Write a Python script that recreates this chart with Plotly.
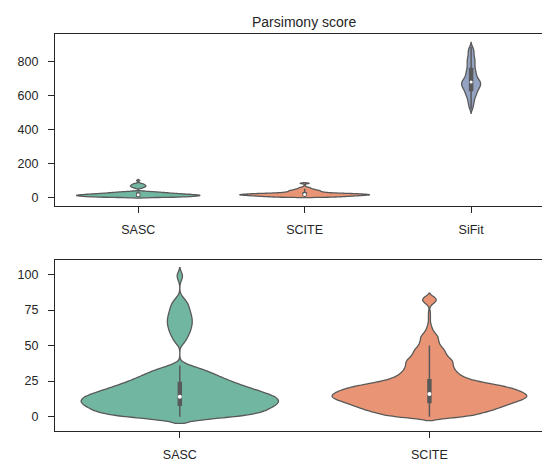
import numpy as np
import plotly.graph_objects as go
from plotly.subplots import make_subplots

# ---------------- data ----------------
methods_top = ["SASC", "SCITE", "SiFit"]
methods_bottom = ["SASC", "SCITE"]

# parsimony scores, given as value -> number of runs with that value
sasc_values = [0, 2, 4, 6, 8, 10, 12, 14, 16, 18, 20, 22, 24, 26, 28, 30, 32, 34, 36,
               52, 54, 56, 58, 60, 62, 64, 66, 68, 70, 72, 74, 76, 78, 80, 82, 84,
               96, 98, 100]
sasc_counts = [52, 50, 54, 58, 62, 64, 64, 62, 57, 51, 45, 40, 35, 30, 26, 22, 18, 14, 6,
               4, 4, 5, 6, 7, 7, 8, 8, 8, 8, 7, 7, 6, 6, 5, 4, 2,
               1, 2, 3]

scite_values = [0, 2, 4, 6, 8, 10, 12, 14, 16, 18, 20, 22, 24, 26, 28, 30, 32, 34, 36, 38,
                40, 42, 44, 46, 48, 50, 52, 54, 56, 58, 60, 62, 64, 66, 68, 70, 72, 74,
                78, 80, 82, 84]
scite_counts = [42, 50, 62, 70, 78, 86, 95, 100, 98, 92, 84, 72, 55, 42, 34, 30, 27, 25, 24, 24,
                23, 19, 17, 16, 14, 11, 10, 9, 9, 7, 4, 3, 2, 1, 1, 1, 1, 1,
                1, 5, 8, 6]

sifit_values = [520, 530, 540, 550, 560, 570, 580, 590, 600, 610, 620, 630, 640, 650, 660,
                670, 680, 690, 700, 710, 720, 730, 740, 750, 760, 770, 780, 790, 800, 810,
                820, 830, 840, 850, 860, 870, 880, 890]
sifit_counts = [2, 2, 2, 3, 3, 3, 4, 4, 5, 6, 6, 7, 8, 9, 10,
                10, 10, 9, 7, 6, 6, 5, 5, 5, 4, 4, 4, 4, 4, 4,
                4, 3, 3, 3, 3, 3, 2, 2]

y_top_ticks = [0, 200, 400, 600, 800]
y_bottom_ticks = [0, 25, 50, 75, 100]

samples = {
    "SASC": np.repeat(sasc_values, sasc_counts).astype(float),
    "SCITE": np.repeat(scite_values, scite_counts).astype(float),
    "SiFit": np.repeat(sifit_values, sifit_counts).astype(float),
}

# ---------------- styling ----------------
colors = {"SASC": "rgb(113,182,161)", "SCITE": "rgb(233,149,117)", "SiFit": "rgb(149,163,195)"}
bandwidths = {"SASC": 2.4, "SCITE": 1.4, "SiFit": 12}
edge = "#595959"
axis_col = "#262626"
font_family = "Liberation Sans, Arial, sans-serif"

top_width = {"SASC": 0.74, "SCITE": 0.78, "SiFit": 0.114}
top_box = {"SASC": 0.024, "SCITE": 0.023, "SiFit": 0.16}
bot_width = {"SASC": 0.79, "SCITE": 0.78}
bot_box = {"SASC": 0.015, "SCITE": 0.015}

fig = make_subplots(rows=2, cols=1)


def add_violin(name, width, boxw, row, dot):
    data = samples[name]
    fig.add_trace(go.Violin(
        x=np.full(len(data), name), y=data, name=name,
        bandwidth=bandwidths[name], width=width, scalemode="width", spanmode="soft",
        points=False, fillcolor=colors[name], opacity=1,
        line=dict(color=edge, width=1.3),
        box=dict(visible=True, width=boxw, fillcolor=edge, line=dict(color=edge, width=1.5)),
        meanline=dict(visible=False), showlegend=False, hoverinfo="skip"),
        row=row, col=1)
    fig.add_trace(go.Scatter(
        x=[name], y=[np.median(data)], mode="markers",
        marker=dict(color="white", size=dot, line=dict(width=0)),
        showlegend=False, hoverinfo="skip"), row=row, col=1)


for m in methods_top:
    add_violin(m, top_width[m], top_box[m], 1, 3)
for m in methods_bottom:
    add_violin(m, bot_width[m], bot_box[m], 2, 4)

axis_common = dict(
    showline=True, linecolor=axis_col, linewidth=1.25,
    ticks="outside", ticklen=6, tickwidth=1.25, tickcolor=axis_col,
    showgrid=False, zeroline=False,
    tickfont=dict(family=font_family, size=12.5, color=axis_col),
)

fig.update_layout(
    width=542, height=461,
    margin=dict(l=55, r=0, t=34, b=30),
    paper_bgcolor="white", plot_bgcolor="white",
    violinmode="overlay",
    font=dict(family=font_family, color=axis_col),
)

fig.update_xaxes(**axis_common, mirror=True, type="category")
fig.update_yaxes(**axis_common, mirror=False)

fig.update_xaxes(categoryorder="array", categoryarray=methods_top, range=[-0.5, 2.426],
                 domain=[0, 1], ticklabelstandoff=6, row=1, col=1)
fig.update_xaxes(categoryorder="array", categoryarray=methods_bottom, range=[-0.5, 1.451],
                 domain=[0, 1], ticklabelstandoff=6, row=2, col=1)
fig.update_yaxes(range=[-50, 964], tickvals=y_top_ticks, domain=[0.5675, 1.0],
                 ticklabelstandoff=7, row=1, col=1)
fig.update_yaxes(range=[-10.1, 110.2], tickvals=y_bottom_ticks, domain=[0.0, 0.4307],
                 ticklabelstandoff=7, row=2, col=1)

fig.add_annotation(text="Parsimony score", xref="paper", yref="paper",
                   x=0.5123, y=1.0, xanchor="center", yanchor="middle", yshift=12,
                   showarrow=False, font=dict(family=font_family, size=14, color=axis_col))

fig.write_html("out.html")
